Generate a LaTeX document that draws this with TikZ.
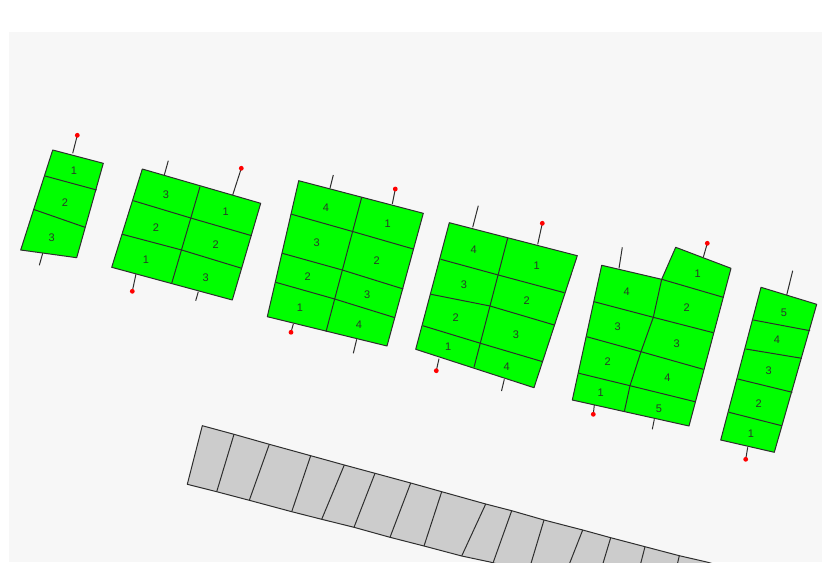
\documentclass[tikz,border=0pt]{standalone}
\usepackage{fontspec}
\setmainfont{Liberation Sans}
\definecolor{bgc}{HTML}{F7F7F7}
\definecolor{cellgreen}{HTML}{00FF00}
\definecolor{stripgray}{HTML}{CCCCCC}
\definecolor{linec}{HTML}{2E2E2E}
\definecolor{textc}{HTML}{2A3A2A}
\definecolor{dotred}{HTML}{FF0000}
\tikzset{
  block/.style={fill=cellgreen,draw=linec,line width=1pt,line join=round},
  gridline/.style={draw=linec,line width=1pt},
  stick/.style={draw=linec,line width=1pt},
  reddot/.style={fill=dotred},
  lbl/.style={font=\fontsize{11}{12}\selectfont,text=textc,inner sep=0pt},
  stripcell/.style={fill=stripgray,draw=linec,line width=1pt,line join=round}
}
\begin{document}
\begin{tikzpicture}[x=1pt,y=-1pt]
\useasboundingbox (0,0) rectangle (832,572);
\fill[white] (0,0) rectangle (832,572);
\fill[bgc] (9,32) rectangle (822,562);

% ---------- gray strip ----------
\begin{scope}
\clip (9,32) rectangle (822,562);
\path[stripcell] (202.3,425.7) -- (234,434.3) -- (269.3,444.3) -- (310.7,455.7) -- (344.3,465) -- (375,473.3) -- (410.7,483) -- (441.7,491.7) -- (485.7,504) -- (511.7,510.7) -- (544,520) -- (582.7,530) -- (610.7,537.7) -- (645,546.7) -- (679.3,555.7) -- (706.7,562) -- (760,577) -- (600,592) -- (490,562) -- (461.7,556) -- (424,546) -- (390,537.3) -- (354,527.3) -- (321.7,519.3) -- (291.7,511.7) -- (249.3,500.3) -- (216.7,491.7) -- (187.3,484.3) -- cycle;
\draw[gridline] (234,434.3) -- (216.7,491.7);
\draw[gridline] (269.3,444.3) -- (249.3,500.3);
\draw[gridline] (310.7,455.7) -- (291.7,511.7);
\draw[gridline] (344.3,465) -- (321.7,519.3);
\draw[gridline] (375,473.3) -- (354,527.3);
\draw[gridline] (410.7,483) -- (390,537.3);
\draw[gridline] (441.7,491.7) -- (424,546);
\draw[gridline] (485.7,504) -- (461.7,556);
\draw[gridline] (511.7,510.7) -- (490.5,570);
\draw[gridline] (544,520) -- (529,570);
\draw[gridline] (582.7,530) -- (567,570);
\draw[gridline] (610.7,537.7) -- (601,570);
\draw[gridline] (645,546.7) -- (639,570);
\draw[gridline] (679.3,555.7) -- (676,570);
\end{scope}

% ---------- block 1 ----------
\draw[stick] (72.7,153.3) -- (77.3,135.3);
\draw[stick] (42.7,253.3) -- (39.3,265.3);
\fill[reddot] (77.3,135.3) circle (2.4);
\path[block] (52.7,150) -- (103.3,163.3) -- (76.7,257.7) -- (20.7,250) -- cycle;
\draw[gridline] (45,176) -- (96.7,190);
\draw[gridline] (33.3,209.3) -- (85,227.3);
\node[lbl] (a1) at (74,171) {1};
\node[lbl] (a2) at (65,202.3) {2};
\node[lbl] (a3) at (51.7,237.3) {3};

% ---------- block 2 ----------
\draw[stick] (164.3,175) -- (168.3,160.7);
\draw[stick] (232.7,195) -- (241.3,168.3);
\draw[stick] (136,274) -- (132.3,291.3);
\draw[stick] (198.3,291.7) -- (195.7,300.7);
\fill[reddot] (241.3,168.3) circle (2.4);
\fill[reddot] (132.3,291.3) circle (2.4);
\path[block] (142.3,169) -- (260.7,203.3) -- (232.3,300) -- (111.7,267.3) -- cycle;
\draw[gridline] (200,186.7) -- (171.7,283.3);
\draw[gridline] (133.3,200.7) -- (191.7,218.3) -- (251.7,235.7);
\draw[gridline] (122.3,234.3) -- (181.7,250) -- (241.7,268.3);
\node[lbl] (b3) at (166,194.3) {3};
\node[lbl] (b2) at (156,227.3) {2};
\node[lbl] (b1) at (146,260) {1};
\node[lbl] (bb1) at (225.7,211.7) {1};
\node[lbl] (bb2) at (215.7,245) {2};
\node[lbl] (bb3) at (205.7,277.3) {3};

% ---------- block 3 ----------
\draw[stick] (330,188.3) -- (333.3,175);
\draw[stick] (392.3,204) -- (395.3,189);
\draw[stick] (293.3,324) -- (291,332.3);
\draw[stick] (356.7,339.3) -- (353.3,353.3);
\fill[reddot] (395.3,189) circle (2.4);
\fill[reddot] (291,332.3) circle (2.4);
\path[block] (298.7,180.7) -- (423.3,213.3) -- (387,346) -- (267.3,316.7) -- cycle;
\draw[gridline] (361.7,197.3) -- (326,331.7);
\draw[gridline] (290.7,214) -- (353.3,231.7) -- (413.3,249);
\draw[gridline] (282.3,253.3) -- (342.3,270) -- (403.3,289);
\draw[gridline] (275.7,282.3) -- (334.7,299) -- (395,317.7);
\node[lbl] (c4) at (326,207.3) {4};
\node[lbl] (c3) at (316.7,242.7) {3};
\node[lbl] (c2) at (307.7,276.7) {2};
\node[lbl] (c1) at (300,307.7) {1};
\node[lbl] (cc1) at (387.7,224) {1};
\node[lbl] (cc2) at (376.7,260.7) {2};
\node[lbl] (cc3) at (367.3,295) {3};
\node[lbl] (cc4) at (359,325) {4};

% ---------- block 4 ----------
\draw[stick] (472.7,227.3) -- (478.3,205.7);
\draw[stick] (537.7,244.3) -- (542.3,223.3);
\draw[stick] (439,358.7) -- (436.3,370.7);
\draw[stick] (504.3,379.3) -- (501.5,391);
\fill[reddot] (542.3,223.3) circle (2.4);
\fill[reddot] (436.3,370.7) circle (2.4);
\path[block] (449.3,222.7) -- (577.3,255.7) -- (534,387.7) -- (415.7,349.3) -- cycle;
\draw[gridline] (507.7,238) -- (474,367.3);
\draw[gridline] (440.7,259.3) -- (498.3,275) -- (564.3,292.7);
\draw[gridline] (431,294.3) -- (490,306) -- (554.3,325);
\draw[gridline] (422.7,325.7) -- (480.5,343.3) -- (542.7,361.7);
\node[lbl] (d4) at (473.7,249.3) {4};
\node[lbl] (d3) at (464,284.3) {3};
\node[lbl] (d2) at (455.7,317.7) {2};
\node[lbl] (d1) at (448.3,346.7) {1};
\node[lbl] (dd1) at (536.7,266) {1};
\node[lbl] (dd2) at (526.7,301) {2};
\node[lbl] (dd3) at (516,335) {3};
\node[lbl] (dd4) at (506.7,366.7) {4};

% ---------- block 5 ----------
\draw[stick] (619,268.3) -- (622.3,247.3);
\draw[stick] (703.3,257.3) -- (707.3,243.3);
\draw[stick] (594.3,405) -- (593.3,414.3);
\draw[stick] (654.3,419.3) -- (652.3,429.3);
\fill[reddot] (707.3,243.3) circle (2.4);
\fill[reddot] (593.3,414.3) circle (2.4);
\path[block] (601.7,265.3) -- (661.7,279.3) -- (675.7,247.3) -- (731,268.3) -- (689,426) -- (572.3,400) -- cycle;
\draw[gridline] (661.7,279.3) -- (653.3,317.3) -- (641,351.7) -- (630,385.7) -- (624.3,411.7);
\draw[gridline] (594,301.7) -- (653.3,317.3);
\draw[gridline] (586.7,336.7) -- (641,351.7);
\draw[gridline] (579,373.3) -- (630,385.7);
\draw[gridline] (661.7,279.3) -- (723.3,297.3);
\draw[gridline] (653.3,317.3) -- (713.3,332.7);
\draw[gridline] (641,351.7) -- (703.3,369.3);
\draw[gridline] (630,385.7) -- (695,401.7);
\node[lbl] (e4) at (626.7,291.7) {4};
\node[lbl] (e3) at (617.7,326.7) {3};
\node[lbl] (e2) at (607.7,361.7) {2};
\node[lbl] (e1) at (600.7,392.7) {1};
\node[lbl] (ee1) at (697.7,273.3) {1};
\node[lbl] (ee2) at (686.7,307.3) {2};
\node[lbl] (ee3) at (676.7,343.3) {3};
\node[lbl] (ee4) at (667.3,377.7) {4};
\node[lbl] (ee5) at (659,408.3) {5};

% ---------- block 6 ----------
\draw[stick] (786.7,295) -- (792.7,270.7);
\draw[stick] (747.7,447.3) -- (745.7,459.3);
\fill[reddot] (745.7,459.3) circle (2.4);
\path[block] (761,287.3) -- (816.7,304.3) -- (774.3,452.3) -- (720.7,440) -- cycle;
\draw[gridline] (753.3,320) -- (810,330.7);
\draw[gridline] (745.7,349) -- (801.8,358.3);
\draw[gridline] (737.7,379) -- (792.3,392.3);
\draw[gridline] (729,412.3) -- (781.7,425.7);
\node[lbl] (f5) at (784,312.3) {5};
\node[lbl] (f4) at (777,340) {4};
\node[lbl] (f3) at (768.7,371) {3};
\node[lbl] (f2) at (758.7,403.3) {2};
\node[lbl] (f1) at (751,433.3) {1};
\end{tikzpicture}
\end{document}
